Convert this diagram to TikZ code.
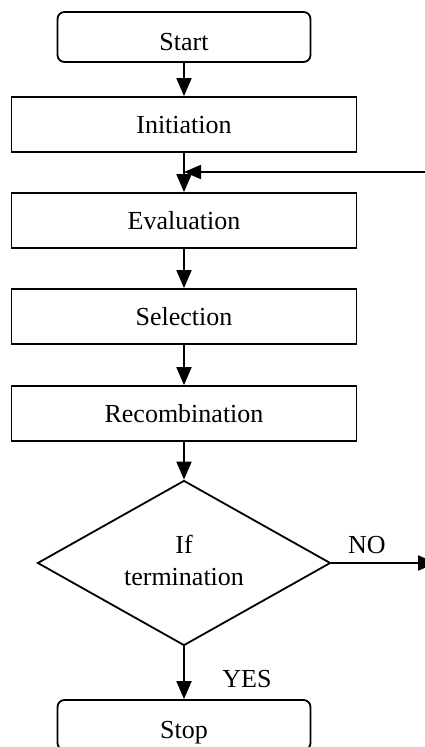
\documentclass[tikz,border=0pt]{standalone}
\usepackage{fontspec}
\setmainfont{Liberation Serif}
\usetikzlibrary{arrows.meta,shapes.geometric}
\begin{document}
\begin{tikzpicture}[x=1pt,y=-1pt,
  box/.style={draw,line width=1.8pt,minimum width=345pt,minimum height=55pt,inner sep=0pt,
    font=\fontsize{26}{30}\selectfont,text height=18pt,text depth=0pt},
  term/.style={box,rounded corners=7pt,minimum width=253pt,minimum height=50pt,text height=26pt},
  arr/.style={line width=2pt,-{Triangle[width=15pt,length=18pt]}},
  fbarr/.style={line width=1.8pt,-{Triangle[width=14pt,length=17pt]}},
  lbl/.style={font=\fontsize{26}{30}\selectfont,inner sep=0pt,anchor=base}]
\useasboundingbox (0,0) rectangle (425,747);
\node[term] (start) at (184,37) {Start};
\node[box] (init) at (184,124.5) {Initiation};
\node[box] (eval) at (184,220.5) {Evaluation};
\node[box] (sel) at (184,316.5) {Selection};
\node[box] (rec) at (184,413.5) {Recombination};
\node[draw,diamond,line width=1.8pt,minimum width=293pt,minimum height=165pt,inner sep=0pt,aspect=1.78] (dec) at (184,563) {};
\node[lbl] (if) at (184,553) {If};
\node[lbl] (termtxt) at (184,585) {termination};
\node[term] (stop) at (184,725) {Stop};
\node[lbl] (no) at (367,553) {NO};
\node[lbl] (yes) at (247,687) {YES};
\coordinate (fb) at (440,172);
\coordinate (noend) at (436,563);
\draw[arr] (start) -- (init);
\draw[arr] (init) -- (eval);
\draw[fbarr] (fb) -- (init.south |- fb);
\draw[arr] (eval) -- (sel);
\draw[arr] (sel) -- (rec);
\draw[arr] (rec) -- (dec.north);
\draw[arr] (dec.east) -- (noend);
\draw[arr] (dec.south) -- (stop);
\end{tikzpicture}
\end{document}
